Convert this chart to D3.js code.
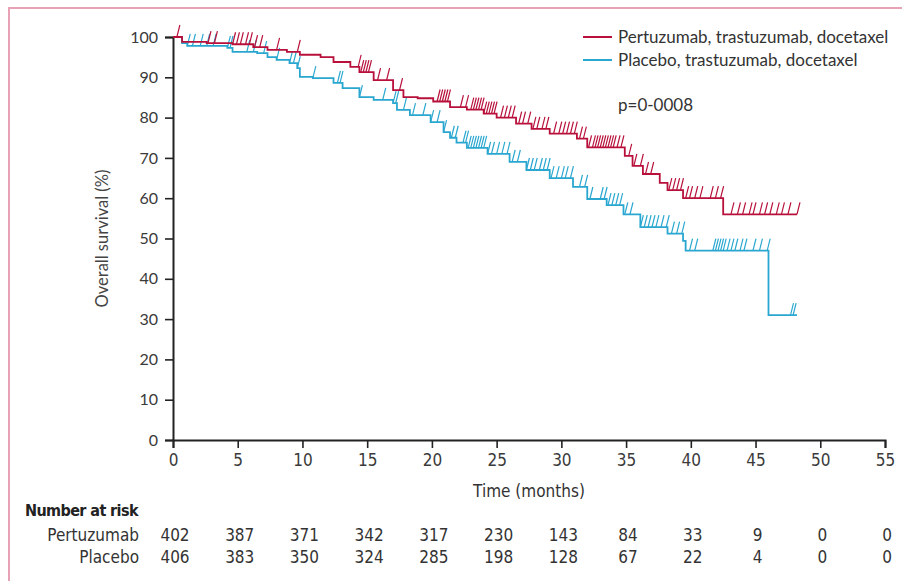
<!DOCTYPE html>
<html>
<head>
<meta charset="utf-8">
<script src="https://cdn.jsdelivr.net/npm/d3@7"></script>
<style>
  html, body { margin: 0; padding: 0; background: #fff; }
  svg { display: block; }
</style>
</head>
<body>
<div id="chart"></div>
<script>
// step points: time (months) and survival (%)
const ptdTime = [0, 0.7, 2.6, 4.6, 6.2, 7.3, 8.8, 9.8, 11.4, 12.4, 13.7, 14.4, 15.5, 17.0, 17.8, 18.9, 20.1, 21.4, 22.7, 24.0, 25.0, 26.5, 27.7, 29.1, 31.2, 32.0, 34.9, 35.5, 36.3, 37.6, 38.2, 39.4, 42.5];
const ptdSurv = [100, 98.8, 98.5, 98.2, 97.5, 96.8, 96.3, 95.6, 95.0, 93.8, 92.6, 91.3, 89.3, 86.8, 85.1, 84.8, 84.0, 82.6, 82.0, 81.0, 80.0, 78.5, 77.2, 76.0, 74.8, 72.6, 70.5, 68.0, 66.0, 63.8, 62.0, 60.0, 56.0];
const ptdEnd = 48.2;

const plbTime = [0, 0.7, 1.1, 4.2, 4.6, 6.5, 7.3, 8.0, 9.0, 9.6, 9.8, 10.8, 12.4, 13.1, 14.4, 15.5, 17.0, 17.3, 18.3, 19.9, 20.9, 21.4, 21.9, 22.7, 24.3, 26.0, 27.3, 29.1, 30.9, 32.0, 33.5, 34.8, 36.1, 38.2, 39.4, 39.6, 46.0];
const plbSurv = [100, 98.5, 97.8, 97.3, 96.3, 96.0, 95.0, 94.3, 93.5, 92.3, 90.1, 89.8, 88.6, 87.3, 85.1, 84.4, 83.6, 81.9, 80.6, 78.9, 76.4, 75.0, 73.8, 72.5, 71.0, 69.0, 67.0, 65.0, 62.8, 59.8, 58.3, 56.0, 52.8, 51.2, 49.4, 47.0, 31.0];
const plbEnd = 48.2;

// censoring times
const ptdCens = [0.3, 2.7, 3.2, 4.6, 4.9, 5.2, 5.6, 5.9, 6.3, 6.7, 8.0, 9.6, 14.3, 14.5, 14.7, 14.9, 15.1, 15.8, 16.5, 17.5, 20.4, 20.6, 20.8, 21.0, 21.2, 22.2, 22.6, 23.0, 23.2, 23.4, 23.6, 23.8, 24.0, 24.2, 24.4, 24.6, 24.8, 25.3, 25.6, 25.9, 26.2, 26.7, 27.0, 27.4, 27.8, 28.1, 28.5, 28.8, 29.4, 29.8, 30.1, 30.4, 30.7, 31.0, 31.4, 31.7, 32.1, 32.4, 32.6, 32.8, 33.0, 33.2, 33.4, 33.6, 33.8, 34.0, 34.3, 34.6, 35.2, 35.6, 36.1, 36.5, 36.9, 38.3, 38.6, 38.9, 39.2, 39.6, 39.9, 40.3, 40.7, 41.5, 41.9, 42.3, 43.1, 43.6, 44.0, 44.5, 44.8, 45.3, 45.7, 46.1, 46.6, 47.0, 47.5, 48.2];
const plbCens = [1.1, 1.5, 2.1, 2.6, 3.1, 4.2, 4.4, 5.7, 6.2, 7.0, 8.0, 9.0, 9.3, 9.6, 10.8, 12.7, 12.9, 14.4, 16.2, 17.0, 17.2, 17.8, 18.5, 19.3, 19.9, 20.4, 20.9, 21.5, 21.8, 22.4, 22.6, 22.8, 23.0, 23.2, 23.4, 23.6, 23.8, 24.0, 24.3, 24.6, 25.0, 25.4, 25.8, 26.2, 26.6, 27.3, 27.6, 27.9, 28.3, 28.6, 28.9, 29.2, 29.6, 30.0, 30.3, 30.7, 31.4, 31.8, 32.2, 33.0, 33.3, 33.6, 33.9, 34.2, 34.5, 34.9, 35.3, 36.1, 36.4, 36.7, 37.0, 37.3, 37.7, 38.1, 38.5, 38.9, 39.3, 39.9, 40.3, 41.7, 41.9, 42.1, 42.3, 42.5, 42.8, 43.1, 43.4, 43.8, 44.1, 44.8, 45.3, 45.9, 47.7, 47.9];

// axes and number at risk
const xTicks = [0, 5, 10, 15, 20, 25, 30, 35, 40, 45, 50, 55];
const yTicks = [0, 10, 20, 30, 40, 50, 60, 70, 80, 90, 100];
const riskNames = ["Pertuzumab", "Placebo"];
const ptdRisk = [402, 387, 371, 342, 317, 230, 143, 84, 33, 9, 0, 0];
const plbRisk = [406, 383, 350, 324, 285, 198, 128, 67, 22, 4, 0, 0];
const legendNames = ["Pertuzumab, trastuzumab, docetaxel", "Placebo, trastuzumab, docetaxel"];
const pText = "p=0-0008";

const red = "#b8103b", blue = "#2aa7d0";
const W = 902, H = 581;
const narrow = "'Liberation Sans Narrow', 'DejaVu Sans Condensed', sans-serif";
const humanist = "Lato, 'Open Sans', sans-serif";

const svg = d3.select("#chart").append("svg")
    .attr("width", W).attr("height", H);

// pink frame, open to the right and bottom
svg.append("path")
    .attr("d", "M9," + H + "V8H" + W)
    .attr("fill", "none")
    .attr("stroke", "#e7a3b5")
    .attr("stroke-width", 2);

const x = d3.scaleLinear().domain([0, 55]).range([173, 885]);
const y = d3.scaleLinear().domain([0, 100]).range([440, 37]);

// axes
const xAxis = svg.append("g")
    .attr("transform", "translate(0," + y(0) + ")")
    .call(d3.axisBottom(x).tickValues(xTicks).tickSize(8).tickPadding(6));
xAxis.selectAll("text")
    .attr("font-family", narrow).attr("font-size", 17).attr("fill", "#3a3a3a");

const yAxis = svg.append("g")
    .attr("transform", "translate(" + x(0) + ",0)")
    .call(d3.axisLeft(y).tickValues(yTicks).tickSize(8).tickPadding(7));
yAxis.selectAll("text")
    .attr("font-family", humanist).attr("font-size", 16).attr("fill", "#3a3a3a");

[xAxis, yAxis].forEach(function (g) {
    g.select(".domain").attr("stroke", "#222").attr("stroke-width", 2);
    g.selectAll(".tick line").attr("stroke", "#222").attr("stroke-width", 1.6);
});

svg.append("text")
    .attr("transform", "translate(108," + y(50) + ") rotate(-90)")
    .attr("text-anchor", "middle")
    .attr("font-family", humanist).attr("font-size", 16.5).attr("fill", "#444")
    .text("Overall survival (%)");

svg.append("text")
    .attr("x", x(27.5)).attr("y", 497)
    .attr("text-anchor", "middle")
    .attr("font-family", narrow).attr("font-size", 17).attr("fill", "#333")
    .text("Time (months)");

// survival curves
const line = d3.line()
    .x(function (d) { return x(d[0]); })
    .y(function (d) { return y(d[1]); })
    .curve(d3.curveStepAfter);

function curvePoints(times, surv, end) {
    const pts = times.map(function (t, i) { return [t, surv[i]]; });
    pts.push([end, surv[surv.length - 1]]);
    return pts;
}

function survAt(times, surv, t) {
    const i = d3.bisectRight(times, t) - 1;
    return surv[Math.max(0, i)];
}

const series = [
    { time: plbTime, surv: plbSurv, end: plbEnd, cens: plbCens, color: blue },
    { time: ptdTime, surv: ptdSurv, end: ptdEnd, cens: ptdCens, color: red }
];

series.forEach(function (s) {
    svg.append("path")
        .datum(curvePoints(s.time, s.surv, s.end))
        .attr("fill", "none")
        .attr("stroke", s.color)
        .attr("stroke-width", 1.8)
        .attr("d", line);

    svg.append("g").selectAll("line")
        .data(s.cens)
        .join("line")
        .attr("x1", function (d) { return x(d); })
        .attr("y1", function (d) { return y(survAt(s.time, s.surv, d)); })
        .attr("x2", function (d) { return x(d) + 3; })
        .attr("y2", function (d) { return y(survAt(s.time, s.surv, d)) - 12; })
        .attr("stroke", s.color)
        .attr("stroke-width", 1.2);
});

// legend
const legend = svg.append("g");
[red, blue].forEach(function (c, i) {
    const ly = 37 + i * 23;
    legend.append("line")
        .attr("x1", 583).attr("x2", 612)
        .attr("y1", ly).attr("y2", ly)
        .attr("stroke", c).attr("stroke-width", 2);
    legend.append("text")
        .attr("x", 618).attr("y", ly + 6)
        .attr("font-family", humanist).attr("font-size", 17).attr("fill", "#333")
        .text(legendNames[i]);
});
legend.append("text")
    .attr("x", 618).attr("y", 111)
    .attr("font-family", humanist).attr("font-size", 17).attr("fill", "#333")
    .text(pText);

// number at risk table
svg.append("text")
    .attr("x", 25).attr("y", 516)
    .attr("font-family", narrow).attr("font-size", 16).attr("font-weight", "bold")
    .attr("letter-spacing", -0.6).attr("fill", "#222")
    .text("Number at risk");

[ptdRisk, plbRisk].forEach(function (row, i) {
    const ry = 541 + i * 22;
    svg.append("text")
        .attr("x", 139).attr("y", ry)
        .attr("text-anchor", "end")
        .attr("font-family", narrow).attr("font-size", 17).attr("fill", "#333")
        .text(riskNames[i]);
    svg.append("g").selectAll("text")
        .data(row)
        .join("text")
        .attr("x", function (d, j) { return x(xTicks[j]) + 2; })
        .attr("y", ry)
        .attr("text-anchor", "middle")
        .attr("font-family", narrow).attr("font-size", 17).attr("fill", "#333")
        .text(function (d) { return d; });
});
</script>
</body>
</html>
